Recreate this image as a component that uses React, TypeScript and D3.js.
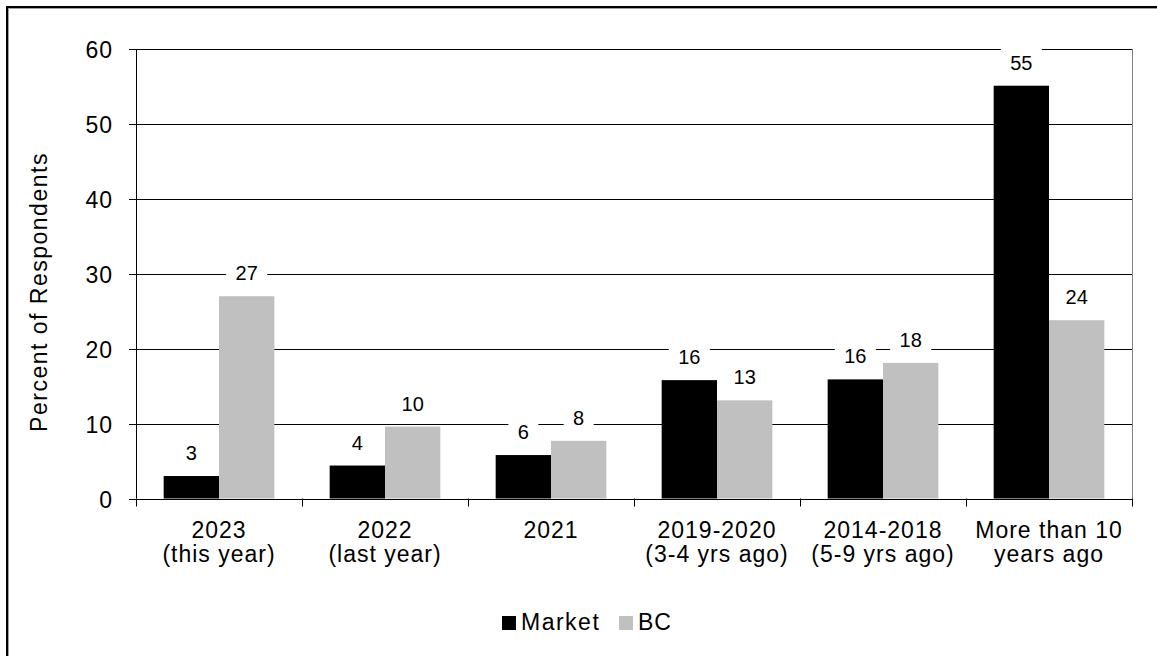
import * as d3 from 'd3';

const categories = [
  ['2023', '(this year)'],
  ['2022', '(last year)'],
  ['2021'],
  ['2019-2020', '(3-4 yrs ago)'],
  ['2014-2018', '(5-9 yrs ago)'],
  ['More than 10', 'years ago'],
];
const seriesNames = ['Market', 'BC'];
const marketValues = [3, 4.4, 5.8, 15.8, 15.9, 55.1];
const bcValues = [27, 9.6, 7.7, 13.1, 18.1, 23.8];
const yTicks = [0, 10, 20, 30, 40, 50, 60];

const colors: Record<string, string> = { Market: '#000000', BC: '#c0c0c0' };
const font = '"Liberation Sans", Arial, sans-serif';

const W = 1157;
const H = 656;
const plot = { left: 136, right: 1132, top: 49, bottom: 498.5 };

const App = () => {
  const keys = categories.map(c => c.join(' '));
  const x0 = d3.scaleBand<string>().domain(keys).range([plot.left, plot.right]);
  const x1 = d3.scaleBand<string>().domain(seriesNames).range([0, x0.bandwidth()]).paddingOuter(0.5);
  const y = d3.scaleLinear().domain([0, 60]).range([plot.bottom, plot.top]);
  const fmt = d3.format('.0f');

  const values: Record<string, number[]> = { Market: marketValues, BC: bcValues };

  return (
    <div style={{ position: 'absolute', left: 0, top: 0 }}>
      <svg width={W} height={H} style={{ display: 'block', background: '#fff' }} fontFamily={font}>
        {/* chart frame */}
        <rect x={7} y={7} width={W + 20} height={H + 20} fill="none" stroke="#000" strokeWidth={2} />
        <rect x={8.5} y={8.5} width={W + 20} height={H + 20} fill="none" stroke="#a0a0a0" strokeWidth={1} />

        {/* gridlines */}
        {yTicks.slice(1).map(t => (
          <line key={t} x1={plot.left} x2={plot.right} y1={Math.round(y(t)) + 0.5} y2={Math.round(y(t)) + 0.5} stroke="#000" />
        ))}
        <line x1={plot.right + 0.5} x2={plot.right + 0.5} y1={plot.top} y2={plot.bottom} stroke="#808080" />

        {/* bars */}
        {seriesNames.map(s => (
          <g key={s}>
            {keys.map((k, i) => (
              <rect key={k}
                x={(x0(k) ?? 0) + (x1(s) ?? 0)}
                y={y(values[s][i])}
                width={x1.bandwidth()}
                height={y(0) - y(values[s][i])}
                fill={colors[s]} />
            ))}
          </g>
        ))}

        {/* y axis */}
        <line x1={plot.left + 0.5} x2={plot.left + 0.5} y1={plot.top} y2={plot.bottom} stroke="#000" />
        {yTicks.map(t => (
          <g key={t} transform={`translate(0,${Math.round(y(t)) + 0.5})`}>
            <line x1={plot.left - 7} x2={plot.left} stroke="#000" />
            <text x={113} y={8} textAnchor="end" fontSize={23} letterSpacing={1} fill="#000">{t}</text>
          </g>
        ))}
        <text transform={`translate(47,292) rotate(-90)`} textAnchor="middle" fontSize={23} letterSpacing={1.5} fill="#000">
          Percent of Respondents
        </text>

        {/* x axis */}
        <line x1={plot.left} x2={plot.right + 1} y1={Math.round(y(0)) + 0.5} y2={Math.round(y(0)) + 0.5} stroke="#000" />
        {[...keys.map(k => x0(k) ?? 0), plot.right].map((xv, i) => (
          <line key={i} x1={Math.round(xv) + 0.5} x2={Math.round(xv) + 0.5} y1={plot.bottom} y2={plot.bottom + 8} stroke="#000" />
        ))}
        {categories.map((lines, i) => (
          <text key={i} textAnchor="middle" fontSize={23} letterSpacing={1} fill="#000">
            {lines.map((ln, j) => (
              <tspan key={j} x={(x0(keys[i]) ?? 0) + x0.bandwidth() / 2} y={538 + j * 24}>{ln}</tspan>
            ))}
          </text>
        ))}

        {/* data labels, white box hides the gridline behind */}
        {seriesNames.map(s => (
          <g key={s}>
            {keys.map((k, i) => {
              const cx = (x0(k) ?? 0) + (x1(s) ?? 0) + x1.bandwidth() / 2;
              const base = y(values[s][i]) - 16;
              const txt = fmt(values[s][i]);
              const bw = txt.length * 11 + 19;
              return (
                <g key={k}>
                  <rect x={cx - bw / 2} y={base - 22} width={bw} height={28} fill="#fff" />
                  <text x={cx} y={base} textAnchor="middle" fontSize={20} fill="#000">{txt}</text>
                </g>
              );
            })}
          </g>
        ))}

        {/* legend */}
        <g>
          <rect x={502} y={616} width={14} height={14} fill={colors.Market} />
          <text x={521} y={630} fontSize={23} letterSpacing={1.5} fill="#000">{seriesNames[0]}</text>
          <rect x={619} y={616} width={14} height={14} fill={colors.BC} />
          <text x={638} y={630} fontSize={23} letterSpacing={1} fill="#000">{seriesNames[1]}</text>
        </g>
      </svg>
    </div>
  );
};

export default App;
